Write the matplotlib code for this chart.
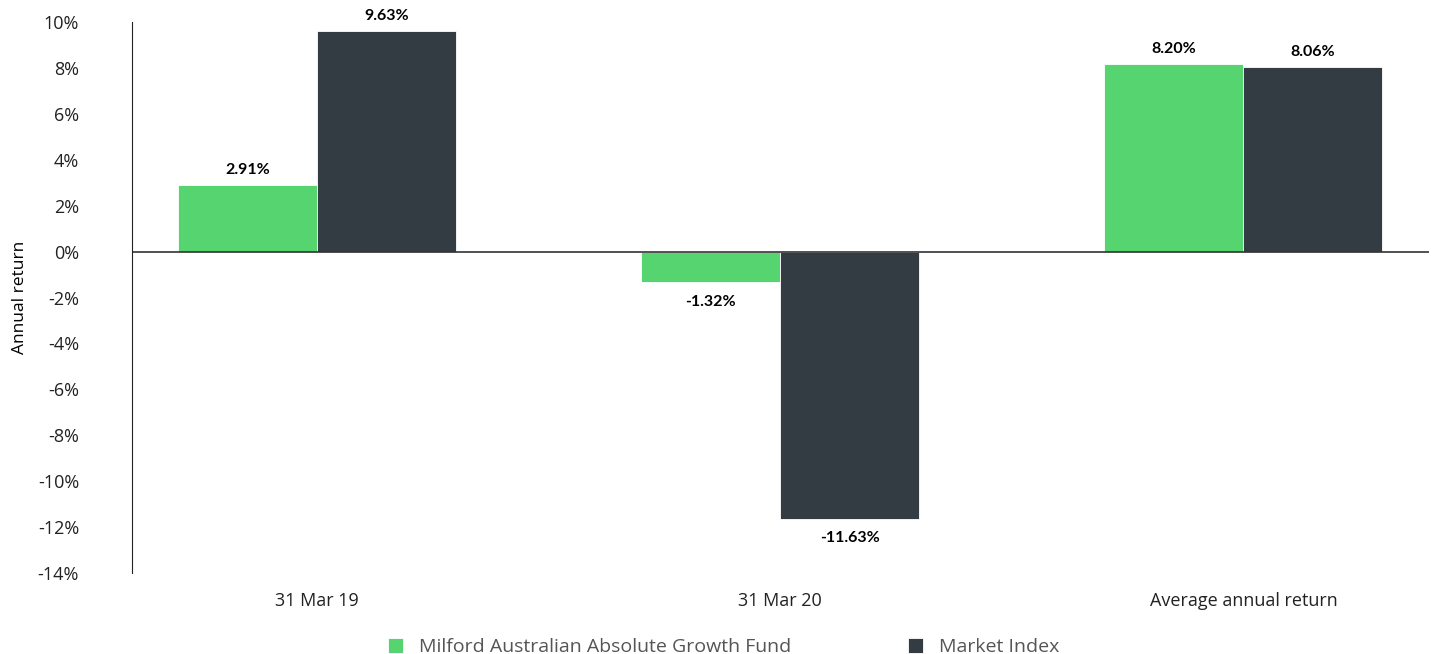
import numpy as np
import matplotlib.pyplot as plt

plt.rcParams['font.family'] = ['Open Sans', 'DejaVu Sans']

categorias = ['31 Mar 19', '31 Mar 20', 'Average annual return']
fondo = [2.91, -1.32, 8.20]
indice = [9.63, -11.63, 8.06]
series = ['Milford Australian Absolute Growth Fund', 'Market Index']
colores = ['#55d46f', '#323c42']

fig = plt.figure(figsize=(14.33, 6.54), dpi=100)
ax = fig.add_axes([0.092, 0.124, 0.905, 0.842])

x = np.arange(len(categorias))
w = 0.3
b1 = ax.bar(x - w / 2, fondo, w, color=colores[0], edgecolor='white', linewidth=0.6, label=series[0])
b2 = ax.bar(x + w / 2, indice, w, color=colores[1], edgecolor='white', linewidth=0.6, label=series[1])

for barras, valores in [(b1, fondo), (b2, indice)]:
    for barra, v in zip(barras, valores):
        cx = barra.get_x() + barra.get_width() / 2
        if v >= 0:
            ax.text(cx, v + 0.35, f'{v:.2f}%', ha='center', va='bottom', fontsize=11.5,
                    fontweight='bold', family=['Lato', 'DejaVu Sans'])
        else:
            ax.text(cx, v - 0.55, f'{v:.2f}%', ha='center', va='top', fontsize=11.5,
                    fontweight='bold', family=['Lato', 'DejaVu Sans'])

ax.axhline(0, color='#333333', linewidth=1.2)
ax.set_xlim(-0.4, 2.4)
ax.set_ylim(-14, 10)
ax.set_yticks(range(-14, 11, 2))
ax.set_yticklabels([f'{t}%' for t in range(-14, 11, 2)])
ax.set_xticks(x)
ax.set_xticklabels(categorias)
ax.tick_params(axis='both', length=0, labelsize=13, colors='#222222')
ax.tick_params(axis='y', pad=38)
ax.tick_params(axis='x', pad=14)
for lado in ['top', 'right', 'bottom']:
    ax.spines[lado].set_visible(False)
ax.spines['left'].set_color('#222222')
ax.set_ylabel('Annual return', fontsize=12.5)
ax.yaxis.set_label_coords(-0.08, 0.5)

fig.legend(handles=[b1, b2], labels=series, loc='lower center', bbox_to_anchor=(0.505, -0.03),
           ncol=2, frameon=False, fontsize=14, handlelength=0.8, handleheight=0.8,
           columnspacing=6, labelcolor='#555555')

fig.savefig('out.png', dpi=100)
